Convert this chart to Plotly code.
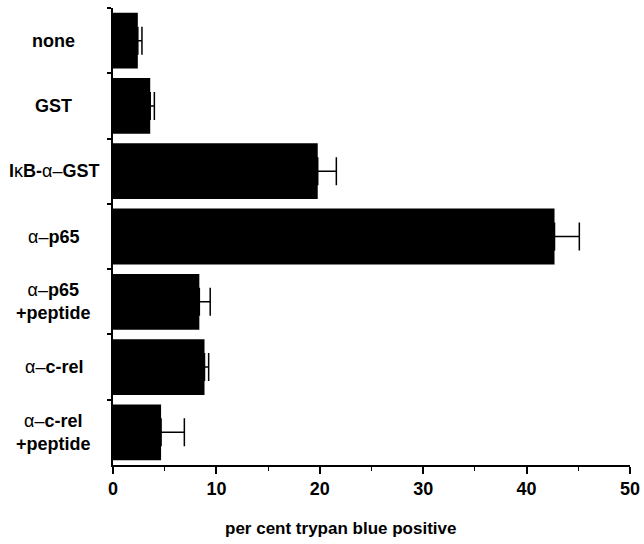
import plotly.graph_objects as go

categories = ["none", "GST", "IkB-a-GST", "a-p65", "a-p65 +peptide", "a-c-rel", "a-c-rel +peptide"]
tick_labels = [
    "<b>none</b>",
    "<b>GST</b>",
    "<b>I</b>κ<b>B-</b>α–<b>GST</b>",
    "α–<b>p65</b>",
    "α–<b>p65</b><br><b>+peptide</b>",
    "α–<b>c-rel</b>",
    "α–<b>c-rel</b><br><b>+peptide</b>",
]
values = [2.4, 3.6, 19.8, 42.7, 8.35, 8.85, 4.65]
errors = [0.4, 0.4, 1.8, 2.4, 1.05, 0.4, 2.25]
x_ticks = [0, 10, 20, 30, 40, 50]

FONT = "Liberation Sans, Arial, Helvetica, sans-serif"

fig = go.Figure()
fig.add_trace(go.Bar(
    x=values, y=categories, orientation="h",
    marker=dict(color="black", line=dict(width=0)),
    error_x=dict(type="data", array=errors, arrayminus=[0]*len(errors),
                 symmetric=False, color="black", thickness=1.5, width=14),
))

for cat, lab in zip(categories, tick_labels):
    fig.add_annotation(x=-0.115, xref="paper", y=cat, yref="y", text=lab,
                       showarrow=False, xanchor="center", yanchor="middle",
                       align="center", font=dict(family=FONT, size=18, color="black"))

fig.add_annotation(x=0.44, xref="paper", y=-0.138, yref="paper",
                   text="<b>per cent trypan blue positive</b>", showarrow=False,
                   xanchor="center", yanchor="middle",
                   font=dict(family=FONT, size=17, color="black"))

fig.update_layout(
    template="none",
    width=644, height=544,
    margin=dict(l=113, r=14, t=8, b=79, autoexpand=False),
    paper_bgcolor="white", plot_bgcolor="white",
    bargap=0.146,
    showlegend=False,
    font=dict(family=FONT, color="black"),
)
fig.update_xaxes(
    automargin=False,
    range=[0, 50], tickvals=x_ticks, ticktext=[f"<b>{v}</b>" for v in x_ticks],
    ticks="outside", ticklen=7, tickwidth=1.5, tickcolor="black",
    minor=dict(dtick=5, ticks="outside", ticklen=4, tickwidth=1.2, tickcolor="black"),
    showline=True, linecolor="black", linewidth=1.5, showgrid=False, zeroline=False,
    tickfont=dict(family=FONT, size=18, color="black"),
)
fig.update_yaxes(
    automargin=False,
    type="category", categoryorder="array", categoryarray=categories,
    range=[6.5, -0.5], tickson="boundaries", ticks="outside", ticklen=4,
    tickwidth=1.5, tickcolor="black", showticklabels=False,
    showline=True, linecolor="black", linewidth=1.5, showgrid=False, zeroline=False,
)

fig.write_html("out.html", config={"displayModeBar": False},
               post_script="document.body.style.margin='0';document.body.style.overflow='hidden';")
